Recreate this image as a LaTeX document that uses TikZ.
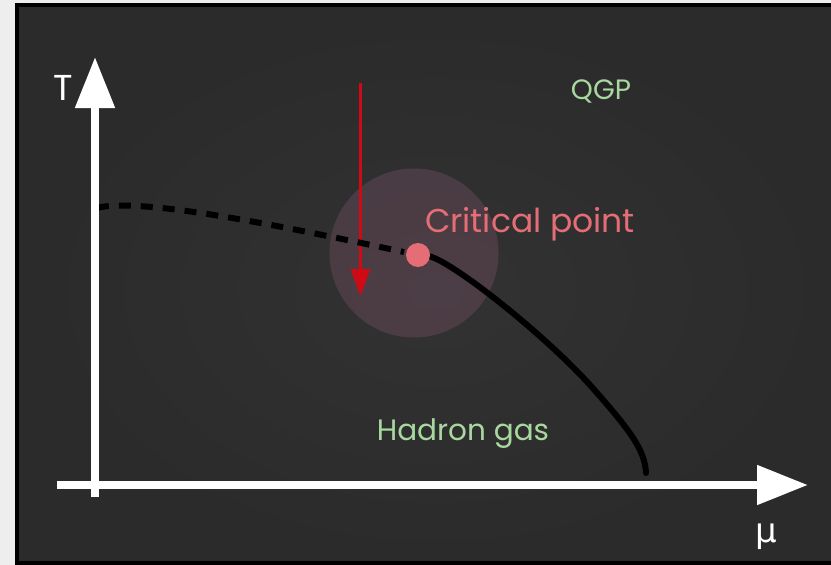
\documentclass[tikz,border=0pt]{standalone}
\usepackage{fontspec}
\setmainfont{Poppins}
\newfontfamily\symfont{DejaVu Sans}
\usetikzlibrary{arrows.meta}
\definecolor{paper}{HTML}{EEEEEE}
\definecolor{board}{HTML}{2B2B2B}
\definecolor{boardin}{HTML}{323232}
\definecolor{chalkgreen}{HTML}{A8D8A0}
\definecolor{critpink}{HTML}{E56E76}
\definecolor{haloc}{HTML}{B87098}
\definecolor{arrowred}{HTML}{D00A14}
\tikzset{
  axis/.style={draw=white, line width=8pt, -{Triangle[length=51pt,width=38pt]}},
  chalk/.style={text=chalkgreen},
  axislabel/.style={text=white, font=\fontsize{36}{38}\selectfont},
  boundary/.style={draw=black, line width=6pt, line cap=round},
}
\begin{document}
\begin{tikzpicture}[x=1pt,y=-1pt]
\useasboundingbox (0,0) rectangle (831,565);
\fill[paper] (0,0) rectangle (831,565);
\fill[board] (15,3) rectangle (840,568);
\shade[inner color=boardin, outer color=board] (40,20) rectangle (831,560);
\draw[black, line width=4pt] (17,5) rectangle (840,563);
% coordinates
\coordinate (yb) at (95,497);
\coordinate (yt) at (95,57);
\coordinate (xl) at (57,485);
\coordinate (xr) at (808,485);
\coordinate (ra) at (360.5,83);
\coordinate (rb) at (360.5,296);
\coordinate (cp) at (418,255);
% halo
\fill[haloc, opacity=0.2] (414,253) circle (84.5);
% red arrow
\draw[arrowred, line width=3pt, -{Triangle[length=27pt,width=19pt]}] (ra) -- (rb);
% dashed crossover
\draw[boundary, dash pattern=on 12pt off 10pt, line cap=butt] (97,208) .. controls (140,196) and (300,230) .. (404,252);
% first-order line
\draw[boundary] (cp) ++(9,1) .. controls (445,256) and (540,330) .. (590,385) .. controls (630,430) and (645,450) .. (646,473);
% critical point
\fill[critpink] (cp) circle (12);
% axes
\draw[axis] (yb) -- (yt);
\draw[axis] (xl) -- (xr);
% labels
\node[axislabel] (T) at (63,88) {T};
\node[text=white, font=\symfont\fontsize{34}{36}\selectfont] (mu) at (766,537) {μ};
\node[chalk, font=\fontsize{28}{30}\selectfont] (qgp) at (601,91) {QGP};
\node[chalk, font=\fontsize{29.5}{31}\selectfont] (hg) at (463,434) {Hadron gas};
\node[text=critpink, font=\fontsize{33}{35}\selectfont] (cpl) at (530,224) {Critical point};
\end{tikzpicture}
\end{document}
